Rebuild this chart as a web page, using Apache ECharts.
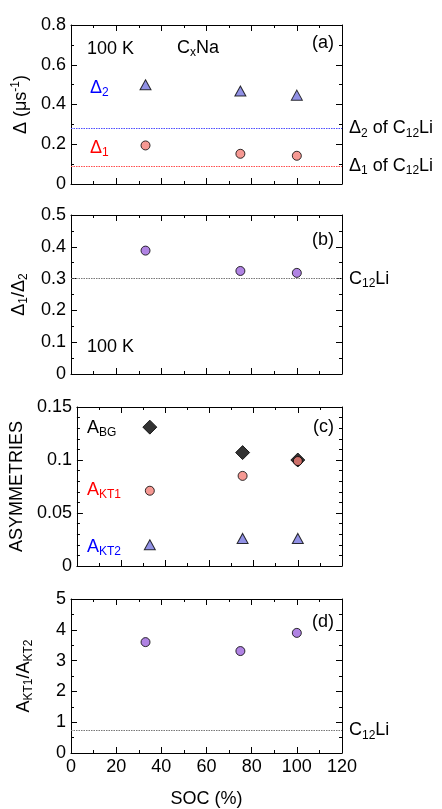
<!DOCTYPE html>
<html><head><meta charset="utf-8">
<script src="https://cdn.jsdelivr.net/npm/echarts@6/dist/echarts.min.js"></script>
<style>html,body{margin:0;padding:0;background:#fff}#c{width:442px;height:809px}</style>
</head><body><div id="c"></div>
<script>
// ---- data ----
const soc = [33, 75, 100];
const delta1 = [0.194, 0.152, 0.142];
const delta2 = [0.499, 0.468, 0.447];
const ratioDelta = [0.388, 0.324, 0.318];
const aBG = [0.131, 0.107, 0.100];
const aKT1 = [0.071, 0.085, 0.099];
const aKT2 = [0.020, 0.026, 0.026];
const ratioA = [3.60, 3.31, 3.90];
const refDelta1 = 0.085;
const refDelta2 = 0.276;
const refRatioDelta = 0.305;
const refRatioA = 0.74;
const xTicks = [0, 20, 40, 60, 80, 100, 120];
const yRanges = [[0, 0.8, 0.2, 2], [0, 0.5, 0.1, 2], [0, 0.15, 0.05, 5], [0, 5, 1, 2]];

const FONT = "'Liberation Sans', Arial, Helvetica, sans-serif";
const FS = 18;
const pairs = (ys) => soc.map((x, i) => [x, ys[i]]);
const rich = {
  m: {fontSize: FS, fontFamily: FONT, lineHeight: 22},
  s: {fontSize: 12, fontFamily: FONT, verticalAlign: 'bottom', lineHeight: 12},
  p: {fontSize: 12, fontFamily: FONT, verticalAlign: 'top', lineHeight: 12}
};
const richColor = (c) => {
  const r = {};
  for (const k in rich) r[k] = Object.assign({}, rich[k], {color: c});
  return r;
};

const tops = [25, 215, 407, 599];
const H = 159;
const grids = tops.map(t => ({left: 71, width: 271, top: t, height: H}));
const nameGaps = [33, 38, 39, 36];

const xAxes = [];
const yAxes = [];
tops.forEach((t, gi) => {
  const last = gi === 3;
  ['bottom', 'top'].forEach(pos => {
    xAxes.push({
      gridIndex: gi, type: 'value', position: pos, min: xTicks[0], max: xTicks[xTicks.length - 1], interval: 20,
      axisLine: {show: true, onZero: false, lineStyle: {color: '#000', width: 1}},
      axisTick: {show: true, inside: true, length: 6, lineStyle: {color: '#000'}},
      minorTick: {show: true, splitNumber: 2, length: 3, lineStyle: {color: '#000'}},
      splitLine: {show: false},
      axisLabel: {show: last && pos === 'bottom', color: '#000', fontSize: FS, fontFamily: FONT, margin: 5},
      name: (last && pos === 'bottom') ? 'SOC (%)' : '',
      nameLocation: 'middle', nameGap: 37,
      nameTextStyle: {color: '#000', fontSize: FS, fontFamily: FONT}
    });
  });
  const r = yRanges[gi];
  const names = [
    '{m|Δ (μs}{p|-1}{m|)}',
    '{m|Δ}{s|1}{m|/Δ}{s|2}',
    '{m|ASYMMETRIES}',
    '{m|A}{s|KT1}{m|/A}{s|KT2}'
  ];
  ['left', 'right'].forEach(pos => {
    yAxes.push({
      gridIndex: gi, type: 'value', position: pos, min: r[0], max: r[1], interval: r[2],
      axisLine: {show: true, onZero: false, lineStyle: {color: '#000', width: 1}},
      axisTick: {show: true, inside: true, length: 6, lineStyle: {color: '#000'}},
      minorTick: {show: true, splitNumber: r[3], length: 3, lineStyle: {color: '#000'}},
      splitLine: {show: false},
      axisLabel: {show: pos === 'left', color: '#000', fontSize: FS, fontFamily: FONT, margin: 5},
      name: pos === 'left' ? names[gi] : '',
      nameLocation: 'middle', nameGap: nameGaps[gi], nameRotate: 90,
      nameTextStyle: {color: '#000', fontSize: FS, fontFamily: FONT, rich: rich}
    });
  });
});

const mk = (color) => ({color: color, borderColor: '#000', borderWidth: 1});
const refLine = (val, color, label) => ({
  silent: true, symbol: 'none', animation: false,
  lineStyle: {color: color, type: [1.5, 1], width: 1.2},
  label: {show: true, position: 'end', distance: 7, formatter: label, rich: rich, color: '#000'},
  data: [{yAxis: val}]
});

const series = [
  {type: 'scatter', xAxisIndex: 0, yAxisIndex: 0, symbol: 'triangle', symbolSize: [11, 10],
   itemStyle: mk('#7676de'), data: pairs(delta2),
   markLine: refLine(refDelta2, '#4d4dff', '{m|Δ}{s|2}{m| of C}{s|12}{m|Li}')},
  {type: 'scatter', xAxisIndex: 0, yAxisIndex: 0, symbol: 'circle', symbolSize: 9,
   itemStyle: mk('#f47f78'), data: pairs(delta1),
   markLine: refLine(refDelta1, '#ff4d4d', '{m|Δ}{s|1}{m| of C}{s|12}{m|Li}')},
  {type: 'scatter', xAxisIndex: 2, yAxisIndex: 2, symbol: 'circle', symbolSize: 9,
   itemStyle: mk('#9c64dc'), data: pairs(ratioDelta),
   markLine: refLine(refRatioDelta, '#777', '{m|C}{s|12}{m|Li}')},
  {type: 'scatter', xAxisIndex: 4, yAxisIndex: 4, symbol: 'diamond', symbolSize: [14, 14],
   itemStyle: mk('#000'), data: pairs(aBG)},
  {type: 'scatter', xAxisIndex: 4, yAxisIndex: 4, symbol: 'circle', symbolSize: 9,
   itemStyle: mk('#f47f78'), data: pairs(aKT1)},
  {type: 'scatter', xAxisIndex: 4, yAxisIndex: 4, symbol: 'triangle', symbolSize: [11, 10],
   itemStyle: mk('#7676de'), data: pairs(aKT2)},
  {type: 'scatter', xAxisIndex: 6, yAxisIndex: 6, symbol: 'circle', symbolSize: 9,
   itemStyle: mk('#9c64dc'), data: pairs(ratioA),
   markLine: refLine(refRatioA, '#777', '{m|C}{s|12}{m|Li}')}
];

const txt = (x, y, text, color, align) => ({
  type: 'text', x: x, y: y, silent: true,
  style: {text: text, rich: richColor(color || '#000'), fill: color || '#000',
          align: align || 'left', verticalAlign: 'middle', fontSize: FS, fontFamily: FONT}
});
const graphic = [
  txt(87, 49, '{m|100 K}'),
  txt(177, 48, '{m|C}{s|x}{m|Na}'),
  txt(334, 43, '{m|(a)}', '#000', 'right'),
  txt(90, 88, '{m|Δ}{s|2}', '#0000ff'),
  txt(90, 148, '{m|Δ}{s|1}', '#ff0000'),
  txt(334, 240, '{m|(b)}', '#000', 'right'),
  txt(87, 347, '{m|100 K}'),
  txt(87, 428, '{m|A}{s|BG}'),
  txt(334, 427, '{m|(c)}', '#000', 'right'),
  txt(87, 490, '{m|A}{s|KT1}', '#ff0000'),
  txt(87, 547, '{m|A}{s|KT2}', '#0000ff'),
  txt(334, 622, '{m|(d)}', '#000', 'right')
];

const chart = echarts.init(document.getElementById('c'), null, {renderer: 'canvas'});
chart.setOption({
  animation: false,
  backgroundColor: '#fff',
  grid: grids, xAxis: xAxes, yAxis: yAxes, series: series, graphic: graphic
});
</script></body></html>
